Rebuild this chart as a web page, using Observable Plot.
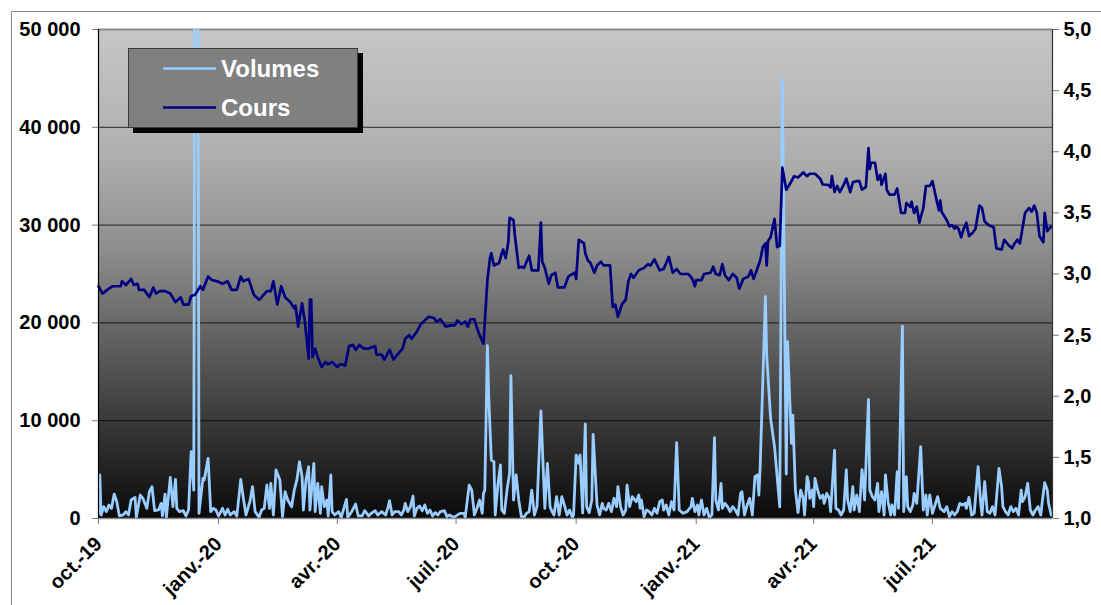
<!DOCTYPE html>
<html>
<head>
<meta charset="utf-8">
<script src="https://cdn.jsdelivr.net/npm/d3@7"></script>
<script src="https://cdn.jsdelivr.net/npm/@observablehq/plot@0.6"></script>
<style>
  body { margin: 0; background: #ffffff; font-family: "Liberation Sans", Arial, sans-serif; }
  #wrap { position: relative; width: 1101px; height: 605px; overflow: hidden; background: #fff; }
  #frame { position: absolute; left: 11px; top: 11px; width: 1200px; height: 700px; border-left: 1px solid #8a8a8a; border-top: 1px solid #8a8a8a; }
  #bg { position: absolute; left: 98px; top: 29px; width: 954px; height: 489px;
        background: linear-gradient(to bottom, #c6c6c6 0%, #b0b0b0 25%, #8e8e8e 45%, #646464 62%, #3a3a3a 80%, #0a0a0a 100%); }
  #chart { position: absolute; left: 0; top: 0; }
  #legend { position: absolute; left: 0; top: 0; pointer-events: none; }
</style>
</head>
<body>
<div id="wrap">
  <div id="frame"></div>
  <div id="bg"></div>
  <div id="chart"></div>
  <svg id="legend" width="1101" height="605"></svg>
</div>
<script>
// ---- Data (day offsets from 1 Oct 2019) ----
const startDate = "2019-10-01";
const endDay = 731;

const priceDay = [0,3,8,11,17,18,21,25,27,30,31,35,39,42,44,47,51,55,59,63,65,69,71,74,78,80,84,87,91,95,99,102,106,109,111,115,119,123,125,129,132,134,137,140,143,147,150,151,153,156,158,161,162,163,164,166,168,171,174,176,179,183,185,187,189,192,195,197,200,203,207,212,213,217,219,223,226,229,233,235,238,240,244,247,250,253,257,259,262,266,270,273,275,278,281,283,285,288,290,292,295,298,300,301,303,307,309,310,312,314,315,318,319,322,324,326,330,332,337,339,340,342,345,347,350,352,357,360,365,366,368,372,373,375,377,380,382,385,387,392,394,396,398,401,404,406,408,410,414,418,421,423,426,430,433,437,440,443,446,452,455,457,458,462,464,469,471,473,476,478,480,483,486,489,491,494,498,500,502,504,507,509,511,512,513,515,518,520,522,524,527,530,533,536,540,543,545,549,553,555,559,561,562,564,566,568,571,573,576,578,581,583,585,588,590,591,592,595,597,599,600,603,604,606,610,612,615,618,619,622,623,625,627,629,632,634,637,639,641,644,645,646,650,652,654,656,657,659,661,663,665,667,670,672,675,677,679,682,686,688,692,694,697,700,702,704,706,710,713,715,717,719,721,724,725,727,730];
const priceValue = [2.90,2.84,2.88,2.90,2.90,2.94,2.91,2.96,2.91,2.92,2.87,2.87,2.81,2.89,2.84,2.86,2.86,2.84,2.77,2.81,2.75,2.75,2.82,2.83,2.90,2.87,2.98,2.95,2.94,2.92,2.94,2.87,2.87,2.98,2.94,2.96,2.83,2.79,2.81,2.86,2.86,2.94,2.75,2.90,2.81,2.77,2.72,2.74,2.57,2.76,2.62,2.31,2.79,2.79,2.32,2.39,2.32,2.24,2.28,2.26,2.28,2.24,2.26,2.26,2.25,2.41,2.42,2.38,2.42,2.39,2.39,2.41,2.34,2.34,2.30,2.38,2.30,2.34,2.39,2.47,2.50,2.47,2.53,2.59,2.62,2.65,2.64,2.61,2.63,2.57,2.58,2.58,2.62,2.59,2.61,2.57,2.63,2.63,2.56,2.50,2.43,2.95,3.13,3.17,3.07,3.09,3.17,3.20,3.13,3.26,3.46,3.44,3.32,3.05,3.06,3.05,3.15,3.03,3.03,3.42,3.10,3.05,2.92,2.99,3.01,2.89,2.89,2.98,3.01,2.96,3.28,3.25,3.17,3.11,3.09,3.01,3.07,3.10,3.07,3.07,2.73,2.75,2.65,2.75,2.79,2.94,3.00,2.97,3.03,3.05,3.08,3.07,3.12,3.03,3.04,3.14,3.01,3.04,3.00,3.00,2.96,2.90,2.95,2.95,3.00,3.01,3.06,3.00,2.99,3.08,2.99,2.95,3.00,2.97,2.88,2.96,2.98,3.03,2.96,3.02,3.11,3.22,3.25,3.07,3.27,3.30,3.45,3.22,3.23,3.87,3.69,3.74,3.80,3.79,3.83,3.80,3.82,3.82,3.78,3.73,3.73,3.71,3.80,3.67,3.72,3.67,3.73,3.78,3.67,3.75,3.76,3.76,3.69,3.71,4.03,3.86,3.91,3.91,3.77,3.81,3.73,3.82,3.69,3.65,3.65,3.70,3.50,3.50,3.58,3.55,3.59,3.50,3.55,3.42,3.54,3.72,3.72,3.76,3.66,3.52,3.60,3.51,3.44,3.39,3.40,3.37,3.39,3.37,3.30,3.37,3.42,3.31,3.34,3.37,3.56,3.54,3.43,3.40,3.38,3.21,3.20,3.28,3.24,3.21,3.25,3.28,3.25,3.50,3.54,3.51,3.56,3.50,3.31,3.26,3.50,3.35,3.39];

const volumeDay = [0,1,2,4,6,8,10,12,14,16,19,21,23,25,28,29,32,34,37,39,41,43,46,48,49,51,52,55,57,59,60,62,65,67,69,71,73,75,77,80,81,84,86,88,90,92,95,97,99,101,104,106,109,111,113,116,118,120,123,125,127,129,131,132,134,136,139,141,143,145,148,150,152,154,156,157,159,161,162,165,166,168,170,171,173,175,176,178,179,181,184,186,188,190,191,194,197,199,202,204,207,209,212,214,217,220,222,223,225,227,230,232,234,235,237,239,241,242,244,246,248,250,252,254,256,258,260,262,265,267,269,272,274,277,280,281,284,286,288,290,292,294,295,296,298,299,301,303,304,306,308,309,311,313,315,316,318,320,322,324,326,328,330,332,334,336,339,342,344,346,347,349,351,353,355,357,359,361,363,364,366,368,369,371,373,374,376,378,379,382,384,386,387,389,391,393,395,397,398,400,402,404,405,407,409,410,412,414,415,416,418,420,422,424,426,428,430,432,433,435,437,439,441,443,445,448,451,454,455,457,459,460,462,464,466,468,470,472,473,475,477,478,480,482,484,486,488,490,492,493,495,497,499,501,503,505,506,507,511,512,515,518,520,522,524,527,528,531,532,534,536,538,540,541,543,544,545,547,548,549,551,553,555,556,558,560,561,564,565,567,569,571,573,574,576,578,579,581,583,585,586,587,590,591,593,595,597,598,600,602,603,605,607,608,610,612,613,616,617,619,620,622,624,625,627,630,632,634,635,637,639,641,643,645,648,650,652,654,656,658,660,662,664,665,667,669,671,674,676,677,679,681,683,685,687,690,692,693,695,697,699,701,703,705,707,708,710,712,714,716,718,720,722,723,725,727,728,730];
const volumeValue = [500,4450,360,1210,700,1380,1040,2500,1720,260,360,700,360,1890,2160,120,2400,2060,1040,2740,3250,800,870,1550,260,2500,120,4200,1210,4000,1040,700,800,260,870,6830,2910,150000,530,4100,3940,6150,700,1040,870,260,1040,360,940,360,700,260,4000,2060,360,1720,3250,700,120,870,1040,3420,1040,3600,360,4960,3940,190,2740,1890,1200,2910,3940,5800,4280,870,3940,5300,870,5640,700,3600,530,3250,1210,1890,260,4450,700,360,700,120,1040,1960,120,700,1480,260,260,800,260,530,800,360,700,360,1210,1820,360,700,700,360,870,1550,700,1210,2300,260,1040,1280,800,1380,530,870,260,600,360,700,800,190,360,120,260,530,530,120,3420,2910,360,1040,1890,530,2570,2910,17670,12500,5980,5810,360,3420,5470,870,530,2910,4620,14600,1890,4450,1890,190,120,530,700,2910,360,1210,11000,1040,5640,1210,870,360,2230,360,2230,1380,360,870,120,360,6490,5640,6490,560,9660,1200,600,1890,8600,1380,360,1550,1040,870,1550,700,2060,1210,3250,1210,360,870,3420,1210,2230,2060,1720,2400,1040,1890,190,870,700,360,1040,530,1720,1890,870,1380,360,1720,870,7750,870,530,700,1210,2060,700,1380,360,1890,360,1040,120,360,8260,1890,870,3600,1040,1550,1210,700,1210,870,360,2570,2740,360,1380,2060,360,4280,4450,2400,5300,22680,16720,10240,7340,4270,1200,44840,4550,18080,7690,10580,2910,600,2910,2060,360,4280,3760,2060,2910,1210,4110,2910,2060,2400,1550,2570,2060,700,7000,1040,870,360,870,4960,1890,700,3250,870,2400,700,5000,3940,1890,12190,2910,2230,1890,3600,700,2740,360,4450,1720,360,1380,360,4790,1040,19680,700,4280,1210,700,1380,2570,1550,7350,870,2400,360,2400,530,1380,2230,1040,700,1210,190,700,360,700,1550,1380,1550,1040,2160,360,530,5300,1550,360,3760,700,530,1210,360,5130,3250,1210,700,360,1210,700,1040,360,2910,1720,2230,3600,870,360,870,1210,360,1550,3660,2910,1550,360];

const xTickDates = ["2019-10-01","2020-01-01","2020-04-01","2020-07-01","2020-10-01","2021-01-01","2021-04-01","2021-07-01"];
const xTickLabels = ["oct.-19","janv.-20","avr.-20","juil.-20","oct.-20","janv.-21","avr.-21","juil.-21"];
const volumeTicks = [0, 10000, 20000, 30000, 40000, 50000];
const priceTicks = [1.0, 1.5, 2.0, 2.5, 3.0, 3.5, 4.0, 4.5, 5.0];
const priceMin = 1, priceMax = 5, volMax = 50000;

// ---- Build tables ----
const t0 = Date.parse(startDate + "T00:00:00Z");
const toDate = d => new Date(t0 + d * 86400000);
const prices = priceDay.map((d, i) => ({date: toDate(d), value: priceValue[i]}));
const volumes = volumeDay.map((d, i) => ({date: toDate(d), value: volumeValue[i]}));
const priceToY = p => (p - priceMin) / (priceMax - priceMin) * volMax;
const labelMap = new Map(xTickDates.map((s, i) => [Date.parse(s + "T00:00:00Z"), xTickLabels[i]]));
const fmtVol = v => d3.format(",")(v).replace(/,/g, " ");
const fmtPrice = p => p.toFixed(1).replace(".", ",");

const font = "'Liberation Sans', Arial, sans-serif";

const chart = Plot.plot({
  width: 1101,
  height: 605,
  marginLeft: 98,
  marginRight: 49,
  marginTop: 29,
  marginBottom: 87,
  style: {background: "transparent", fontFamily: font, color: "#000", overflow: "visible"},
  x: {type: "utc", domain: [toDate(0), toDate(endDay)]},
  y: {domain: [0, volMax]},
  marks: [
    Plot.ruleY(volumeTicks.filter(v => v > 0 && v < volMax), {stroke: "#000", strokeOpacity: 0.62, strokeWidth: 1.3}),
    Plot.ruleY([volMax], {stroke: "#8a8a8a", strokeWidth: 2}),
    Plot.line(volumes, {x: "date", y: "value", stroke: "#99ccff", strokeWidth: 2.8, clip: true}),
    Plot.line(prices, {x: "date", y: d => priceToY(d.value), stroke: "#000080", strokeWidth: 2.7}),
    Plot.ruleY([0], {stroke: "#8a8a8a", strokeWidth: 1.5}),
    Plot.ruleX([toDate(0)], {stroke: "#000", strokeWidth: 1.2}),
    Plot.ruleX([toDate(endDay)], {stroke: "#333", strokeWidth: 1.2}),
    Plot.axisY({anchor: "left", ticks: volumeTicks, tickFormat: fmtVol, tickSize: 6, tickPadding: 12,
      fontSize: 20, fontWeight: "bold", stroke: "#777", fill: "#000", label: null}),
    Plot.axisY({anchor: "right", ticks: priceTicks.map(priceToY), tickFormat: v => fmtPrice(priceMin + v / volMax * (priceMax - priceMin)),
      tickSize: 6, tickPadding: 5, fontSize: 20, fontWeight: "bold", stroke: "#777", fill: "#000", label: null}),
    Plot.axisX({ticks: xTickDates.map(s => new Date(s + "T00:00:00Z")), tickFormat: d => labelMap.get(+d),
      tickRotate: -45, tickSize: 6, tickPadding: 16, fontSize: 20, fontWeight: "bold", stroke: "#777", fill: "#000", label: null})
  ]
});
document.getElementById("chart").appendChild(chart);

// ---- Legend ----
const lg = d3.select("#legend");
lg.append("rect").attr("x", 133).attr("y", 53).attr("width", 230).attr("height", 80).attr("fill", "#000");
lg.append("rect").attr("x", 128.5).attr("y", 48.5).attr("width", 229).attr("height", 79)
  .attr("fill", "#808080").attr("stroke", "#3a3a3a").attr("stroke-width", 1);
const legendItems = [{name: "Volumes", color: "#99ccff", y: 68.5}, {name: "Cours", color: "#000080", y: 107.5}];
legendItems.forEach(it => {
  lg.append("line").attr("x1", 163).attr("x2", 216).attr("y1", it.y).attr("y2", it.y)
    .attr("stroke", it.color).attr("stroke-width", 2.6);
  lg.append("text").attr("x", 221).attr("y", it.y + 8).attr("fill", "#fff")
    .attr("font-family", font).attr("font-weight", "bold").attr("font-size", 24).text(it.name);
});
</script>
</body>
</html>
